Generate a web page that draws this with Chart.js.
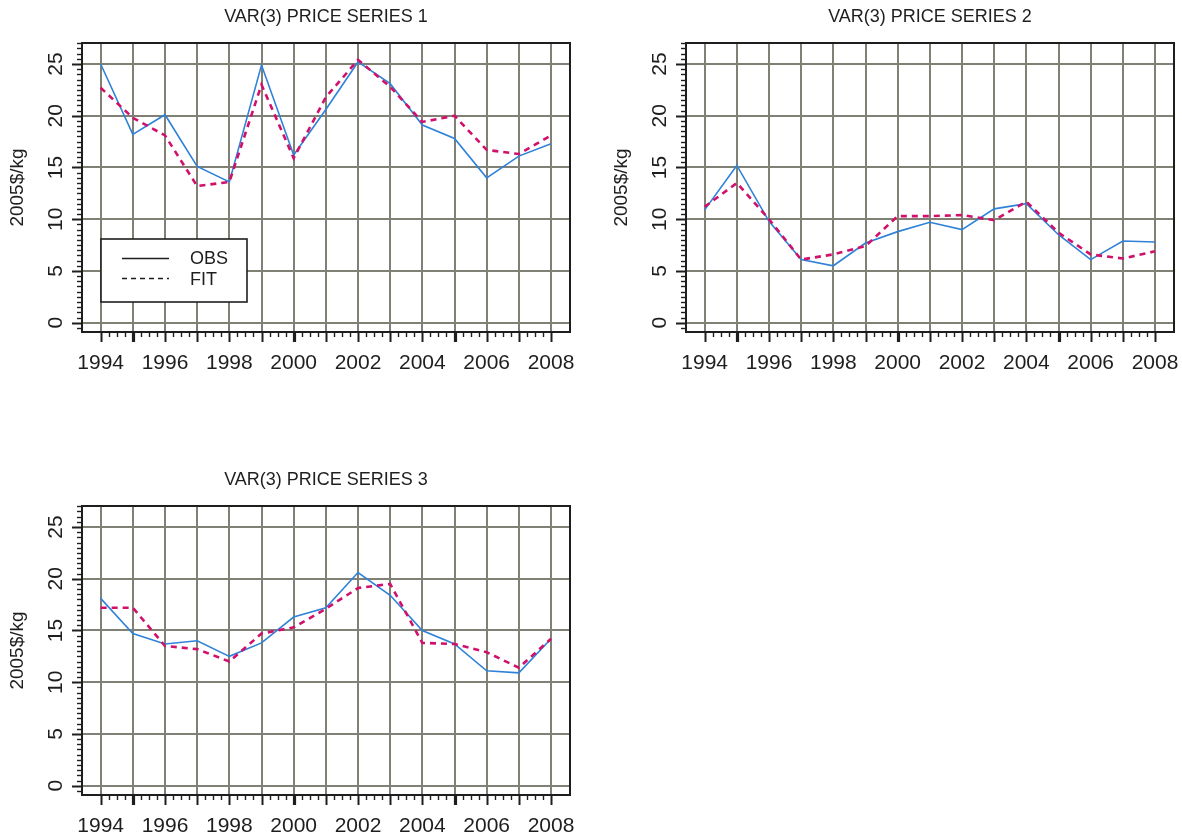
<!DOCTYPE html>
<html><head><meta charset="utf-8">
<script src="https://cdn.jsdelivr.net/npm/chart.js@4/dist/chart.umd.min.js"></script>
<style>
html,body{margin:0;padding:0;background:#fff;width:1182px;height:838px;overflow:hidden;}
.panel{position:absolute;width:590px;height:390px;}
canvas{display:block;}
</style></head><body>
<div class="panel" style="left:0;top:0"><canvas id="c1" width="590" height="390"></canvas></div>
<div class="panel" style="left:604px;top:0"><canvas id="c2" width="590" height="390"></canvas></div>
<div class="panel" style="left:0;top:463px"><canvas id="c3" width="590" height="390"></canvas></div>
<script>
// ---------- data ----------
const years = [1994,1995,1996,1997,1998,1999,2000,2001,2002,2003,2004,2005,2006,2007,2008];
const xTickLabels = ['1994','1996','1998','2000','2002','2004','2006','2008'];
const yTickValues = [0,5,10,15,20,25];
const panelTitles = ['VAR(3) PRICE SERIES 1','VAR(3) PRICE SERIES 2','VAR(3) PRICE SERIES 3'];
const yAxisTitle = '2005$/kg';
const legendLabels = ['OBS','FIT'];

const obs1 = [25.0,18.2,20.1,15.1,13.6,24.9,16.2,20.6,25.2,23.1,19.1,17.8,14.0,16.1,17.3];
const fit1 = [22.7,19.8,18.1,13.2,13.6,23.0,15.9,21.8,25.4,22.8,19.4,20.0,16.7,16.3,18.1];

const obs2 = [10.9,15.2,9.8,6.1,5.5,7.7,8.8,9.7,9.0,11.0,11.5,8.5,6.1,7.9,7.8];
const fit2 = [11.2,13.5,10.0,6.1,6.6,7.4,10.3,10.3,10.4,9.9,11.7,8.7,6.6,6.2,6.9];

const obs3 = [18.1,14.7,13.7,14.0,12.5,13.8,16.3,17.2,20.6,18.4,15.0,13.7,11.1,10.9,14.2];
const fit3 = [17.2,17.2,13.5,13.2,12.0,14.7,15.3,17.1,19.1,19.5,13.8,13.7,12.9,11.4,14.2];

// ---------- style ----------
const FONT = 'Liberation Sans, Arial, Helvetica, sans-serif';
const BLUE = '#2f82d8';
const RED = '#d0106a';
const GRID = '#808074';
const INK = '#1e1e1e';
Chart.defaults.font.family = FONT;

const decor = {
  id: 'decor',
  afterDraw(chart, args, opts) {
    const ctx = chart.ctx, a = chart.chartArea, x = chart.scales.x, y = chart.scales.y;
    ctx.save();
    ctx.strokeStyle = INK;
    ctx.lineCap = 'butt';
    // frame
    ctx.lineWidth = 2;
    ctx.strokeRect(a.left, a.top, a.right - a.left, a.bottom - a.top);
    // y tick marks (major every 5, minor every 0.5)
    for (let k = Math.ceil(y.min * 2); k <= Math.floor(y.max * 2); k++) {
      const py = Math.round(y.getPixelForValue(k / 2)) + 0.5;
      const major = k % 10 === 0;
      ctx.lineWidth = major ? 2 : 1.4;
      ctx.beginPath(); ctx.moveTo(a.left, py); ctx.lineTo(a.left - (major ? 10 : 5), py); ctx.stroke();
    }
    // x tick marks (major every year, minor every quarter)
    for (let k = years[0] * 4; k <= years[years.length - 1] * 4; k++) {
      const v = k / 4;
      const px = Math.round(x.getPixelForValue(v)) + 0.5;
      const major = k % 4 === 0;
      const bold = major && (v % 5 === 0);
      ctx.lineWidth = bold ? 3.2 : (major ? 2 : 1.4);
      ctx.beginPath(); ctx.moveTo(px, a.bottom); ctx.lineTo(px, a.bottom + (major ? 10 : 5)); ctx.stroke();
    }
    // rotated y tick labels
    ctx.fillStyle = INK;
    ctx.font = '21px ' + FONT;
    ctx.textAlign = 'center';
    ctx.textBaseline = 'alphabetic';
    yTickValues.forEach(v => {
      const py = y.getPixelForValue(v);
      ctx.save();
      ctx.translate(a.left - 20, py);
      ctx.rotate(-Math.PI / 2);
      ctx.fillText(String(v), 0, 0);
      ctx.restore();
    });
    // legend
    if (opts.legend) {
      const L = 101, T = 239, R = 247, B = 302;
      ctx.fillStyle = '#fff';
      ctx.fillRect(L, T, R - L, B - T);
      ctx.lineWidth = 1.6;
      ctx.strokeStyle = INK;
      ctx.strokeRect(L, T, R - L, B - T);
      ctx.beginPath(); ctx.moveTo(122, 258.5); ctx.lineTo(169, 258.5); ctx.stroke();
      ctx.setLineDash([5, 4]);
      ctx.beginPath(); ctx.moveTo(122, 278.5); ctx.lineTo(169, 278.5); ctx.stroke();
      ctx.setLineDash([]);
      ctx.fillStyle = INK;
      ctx.font = '18px ' + FONT;
      ctx.textAlign = 'left';
      ctx.textBaseline = 'middle';
      ctx.fillText(legendLabels[0], 190, 259);
      ctx.fillText(legendLabels[1], 190, 280);
    }
    ctx.restore();
  }
};

function makeChart(id, title, obs, fit, showLegend) {
  return new Chart(document.getElementById(id), {
    type: 'line',
    data: {
      datasets: [
        { label: legendLabels[1], data: years.map((yr, i) => ({x: yr, y: fit[i]})),
          borderColor: RED, borderWidth: 2.6, borderDash: [6, 5], pointRadius: 0, tension: 0, fill: false, order: 0 },
        { label: legendLabels[0], data: years.map((yr, i) => ({x: yr, y: obs[i]})),
          borderColor: BLUE, borderWidth: 1.6, pointRadius: 0, tension: 0, fill: false, order: 1 }
      ]
    },
    options: {
      responsive: false,
      animation: false,
      devicePixelRatio: 1,
      layout: { padding: { left: 0, right: 20, top: 0, bottom: 0 } },
      plugins: {
        legend: { display: false },
        tooltip: { enabled: false },
        title: { display: true, text: title, fullSize: false, color: INK,
                 font: { size: 18, weight: 'normal', family: FONT }, padding: { top: 6, bottom: 15.4 } },
        decor: { legend: showLegend }
      },
      scales: {
        x: {
          type: 'linear', min: 1993.42, max: 2008.59,
          afterBuildTicks: s => { s.ticks = years.map(v => ({ value: v })); },
          afterFit: s => { s.height = 58; s.paddingLeft = 0; s.paddingRight = 0; },
          ticks: { autoSkip: false, maxRotation: 0, minRotation: 0, padding: 19, color: INK,
                   font: { size: 21, family: FONT },
                   callback: v => xTickLabels.includes(String(v)) ? String(v) : '' },
          grid: { color: GRID, lineWidth: 2, drawTicks: false },
          border: { display: false }
        },
        y: {
          type: 'linear', min: -0.9, max: 27.03,
          afterBuildTicks: s => { s.ticks = yTickValues.map(v => ({ value: v })); },
          afterFit: s => { s.width = 82; s.paddingTop = 0; s.paddingBottom = 0; },
          ticks: { display: false },
          grid: { color: GRID, lineWidth: 2, drawTicks: false },
          border: { display: false },
          title: { display: true, text: yAxisTitle, color: INK, font: { size: 19, family: FONT },
                   padding: { top: 6, bottom: 0 } }
        }
      }
    },
    plugins: [decor]
  });
}

makeChart('c1', panelTitles[0], obs1, fit1, true);
makeChart('c2', panelTitles[1], obs2, fit2, false);
makeChart('c3', panelTitles[2], obs3, fit3, false);
</script>
</body></html>
